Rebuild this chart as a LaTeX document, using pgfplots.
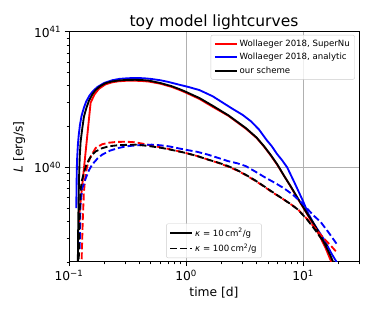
\documentclass[border=0pt]{standalone}
\usepackage{fontspec}
\setmainfont{DejaVu Sans}
\usepackage{pgfplots}
\pgfplotsset{compat=1.18}
\definecolor{gridgray}{HTML}{B0B0B0}
\definecolor{legframe}{HTML}{CCCCCC}
\begin{document}
\begin{tikzpicture}
\useasboundingbox (-69pt,-54pt) rectangle (304pt,262pt);
\pgfplotsset{
  mylegend/.style={
    legend style={draw=legframe, rounded corners=2pt, fill=white, fill opacity=0.8, text opacity=1,
      font=\fontsize{8.6}{10}\selectfont, inner xsep=3pt, inner ysep=2.5pt, row sep=1.6pt},
    legend cell align=left,
    legend image code/.code={\draw[##1] (0pt,0pt) -- (22pt,0pt);},
  }
}
\begin{axis}[
  at={(0pt,0pt)}, anchor=south west,
  scale only axis, width=290pt, height=230pt,
  xmode=log, ymode=log,
  xmin=0.1, xmax=30, ymin=2e39, ymax=1e41,
  xtick={0.1,1,10},
  xticklabels={10\textsuperscript{−1},10\textsuperscript{0},10\textsuperscript{1}},
  minor xtick={0.2,0.3,0.4,0.5,0.6,0.7,0.8,0.9,2,3,4,5,6,7,8,9,20,30},
  ytick={1e40,1e41},
  yticklabels={10\textsuperscript{40},10\textsuperscript{41}},
  minor ytick={2e39,3e39,4e39,5e39,6e39,7e39,8e39,9e39,2e40,3e40,4e40,5e40,6e40,7e40,8e40,9e40},
  tick pos=left, tick align=outside,
  major tick length=4.3pt, minor tick length=2.5pt,
  every tick/.style={black, line width=0.9pt},
  minor tick style={line width=0.7pt},
  axis line style={line width=0.9pt},
  xmajorgrids, ymajorgrids,
  major grid style={gridgray, line width=0.9pt},
  tick label style={font=\fontsize{12.3}{14}\selectfont},
  xlabel={time [d]}, ylabel={\textit{L} [erg/s]},
  label style={font=\fontsize{12.3}{14}\selectfont},
  xlabel style={at={(axis description cs:0.5,-0.135)}, anchor=center},
  ylabel style={at={(axis description cs:-0.172,0.5)}, anchor=center},
  title={toy model lightcurves},
  title style={font=\fontsize{15.5}{18}\selectfont, at={(axis description cs:0.5,1)}, anchor=base, yshift=-1pt},
  mylegend,
  legend style={at={(0.986,0.987)}, anchor=north east},
]
% kappa = 10 (solid)
\addplot[red, line width=1.85pt, line join=round] coordinates {
(0.1222,3.5e39) (0.1228,4.6e39) (0.153,3.0e40) (0.165,3.45e40) (0.18,3.8e40) (0.205,4.1e40)
(0.235,4.25e40) (0.266,4.32e40) (0.31,4.36e40) (0.369,4.36e40) (0.42,4.34e40) (0.479,4.3e40)
(0.6,4.15e40) (0.75,3.93e40) (0.879,3.73e40) (0.982,3.58e40) (1.3,3.2e40) (1.686,2.8e40) (2.3,2.4e40)
(3.24,1.93e40) (4.0,1.65e40) (4.64,1.42e40) (5.3,1.22e40) (6.02,1.04e40) (6.9,8.6e39)
(7.83,7.2e39) (8.8,6.05e39) (10,5.05e39) (11,4.4e39) (12.3,3.75e39) (14,3.05e39)
(15.5,2.55e39) (17,2.1e39) (19,1.7e39)
};
\addlegendentry{Wollaeger 2018, SuperNu}
\addplot[blue, line width=1.85pt, line join=round] coordinates {
(0.1154,5.0e39) (0.1162,8.0e39) (0.117,1.1e40) (0.119,1.45e40) (0.121,1.72e40) (0.124,2.05e40)
(0.128,2.4e40) (0.134,2.75e40) (0.14,3.05e40) (0.15,3.4e40) (0.16,3.65e40) (0.175,3.92e40)
(0.2,4.2e40) (0.235,4.4e40) (0.27,4.5e40) (0.32,4.55e40) (0.37,4.57e40) (0.43,4.55e40)
(0.5,4.5e40) (0.6,4.4e40) (0.7,4.28e40) (0.879,4.07e40) (1.05,3.92e40) (1.3,3.72e40)
(1.686,3.35e40) (2.0,3.05e40) (2.5,2.7e40) (3.04,2.44e40) (3.6,2.18e40) (4.2,1.9e40)
(4.85,1.6e40) (5.4,1.43e40) (6.0,1.25e40) (6.6,1.13e40) (7.3,1.0e40) (8.5,7.6e39)
(10,5.6e39) (11,4.6e39) (12.3,3.85e39) (13.5,3.4e39) (15,2.95e39) (17.5,2.3e39) (20,1.9e39)
};
\addlegendentry{Wollaeger 2018, analytic}
\addplot[black, line width=1.85pt, line join=round] coordinates {
(0.1185,1.2e39) (0.1195,3.0e39) (0.1205,5.0e39) (0.1217,8.0e39) (0.1235,1.2e40) (0.1257,1.55e40)
(0.13,1.95e40) (0.1341,2.36e40) (0.14,2.7e40) (0.148,3.1e40) (0.158,3.45e40) (0.1687,3.72e40)
(0.185,3.98e40) (0.205,4.18e40) (0.23,4.3e40) (0.266,4.38e40) (0.31,4.42e40) (0.369,4.43e40)
(0.42,4.41e40) (0.479,4.37e40) (0.6,4.2e40) (0.75,3.98e40) (0.879,3.78e40) (0.982,3.63e40) (1.3,3.25e40)
(1.686,2.85e40) (2.3,2.42e40) (3.24,1.95e40) (4.0,1.66e40) (4.64,1.43e40) (5.3,1.23e40)
(6.02,1.05e40) (6.9,8.6e39) (7.83,7.24e39) (8.8,6.1e39) (10,5.1e39) (11,4.45e39)
(12.3,3.85e39) (14,3.15e39) (15.5,2.65e39) (17,2.25e39) (18.5,1.9e39)
};
\addlegendentry{our scheme}
% kappa = 100 (dashed)
\addplot[red, line width=1.85pt, dash pattern=on 6.8pt off 3pt, forget plot] coordinates {
(0.1272,1.5e39) (0.1283,2.1e39) (0.131,4.0e39) (0.134,6.5e39) (0.138,8.6e39) (0.143,1.02e40)
(0.153,1.2e40) (0.169,1.39e40) (0.192,1.48e40) (0.22,1.52e40) (0.256,1.54e40) (0.31,1.545e40)
(0.369,1.53e40) (0.45,1.48e40) (0.546,1.43e40) (0.7,1.37e40) (0.98,1.28e40) (1.25,1.21e40)
(1.54,1.14e40) (1.9,1.075e40) (2.29,1.01e40) (2.75,9.45e39) (3.24,8.75e39) (3.9,7.95e39)
(4.64,7.2e39) (5.5,6.5e39) (6.5,5.95e39) (7.7,5.4e39) (9.0,4.9e39) (10.8,4.15e39)
(12.5,3.6e39) (14,3.2e39) (15.5,2.9e39) (17.5,2.6e39) (19.5,2.34e39)
};
\addplot[blue, line width=1.85pt, dash pattern=on 6.8pt off 3pt, forget plot] coordinates {
(0.1235,2.5e39) (0.1245,4.0e39) (0.1257,5.5e39) (0.13,7.0e39) (0.139,8.3e39) (0.148,9.5e39)
(0.158,1.05e40) (0.175,1.16e40) (0.192,1.24e40) (0.225,1.33e40) (0.266,1.39e40) (0.31,1.43e40)
(0.369,1.45e40) (0.44,1.465e40) (0.51,1.47e40) (0.6,1.455e40) (0.708,1.43e40) (0.982,1.35e40)
(1.25,1.3e40) (1.54,1.24e40) (1.9,1.17e40) (2.29,1.11e40) (2.75,1.07e40) (3.24,1.02e40)
(3.9,9.3e39) (4.64,8.5e39) (5.7,7.7e39) (6.87,7.0e39) (8.3,6.2e39) (10,5.35e39)
(11.2,4.8e39) (12.3,4.4e39) (14.1,3.95e39) (16.5,3.3e39) (19.5,2.69e39)
};
\addplot[black, line width=1.85pt, dash pattern=on 6.8pt off 3pt, forget plot] coordinates {
(0.1205,1.5e39) (0.122,3.0e39) (0.1235,4.8e39) (0.1257,6.85e39) (0.129,8.0e39) (0.134,9.1e39)
(0.14,1.03e40) (0.148,1.14e40) (0.158,1.24e40) (0.169,1.31e40) (0.19,1.38e40) (0.219,1.43e40)
(0.27,1.46e40) (0.369,1.47e40) (0.47,1.44e40) (0.62,1.39e40) (0.8,1.33e40) (0.98,1.28e40)
(1.25,1.21e40) (1.54,1.14e40) (1.9,1.08e40) (2.29,1.02e40) (2.75,9.5e39) (3.24,8.8e39)
(3.9,8.0e39) (4.64,7.24e39) (5.5,6.55e39) (6.5,5.95e39) (7.7,5.4e39) (9.0,4.88e39)
(10.8,4.12e39) (12.5,3.5e39) (14,3.05e39) (16,2.62e39)
};
\end{axis}
\begin{axis}[
  at={(0pt,0pt)}, anchor=south west,
  scale only axis, width=290pt, height=230pt,
  hide axis, xmin=0, xmax=1, ymin=0, ymax=1,
  mylegend,
  legend style={at={(0.5,0.017)}, anchor=south},
]
\addlegendimage{black, line width=1.85pt}
\addlegendentry{\textit{κ} = 10\,cm\textsuperscript{2}/g}
\addlegendimage{black, line width=1.85pt, dash pattern=on 6.8pt off 3pt}
\addlegendentry{\textit{κ} = 100\,cm\textsuperscript{2}/g}
\end{axis}
\end{tikzpicture}
\end{document}
